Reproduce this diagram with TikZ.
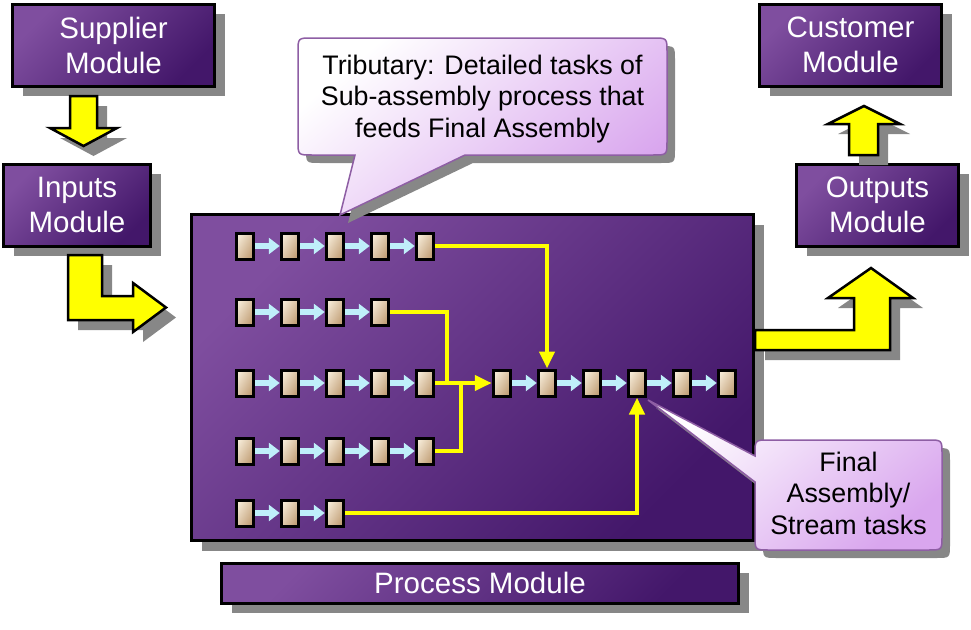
\documentclass[tikz,border=0pt]{standalone}
\usepackage{fontspec}
\setmainfont{Liberation Sans}
\usetikzlibrary{shadows,arrows.meta}
\definecolor{purL}{HTML}{7F4E9F}
\definecolor{purD}{HTML}{43176A}
\definecolor{tanL}{HTML}{F4E8D4}
\definecolor{tanD}{HTML}{C2A078}
\definecolor{blueA}{HTML}{BFEFFA}
\definecolor{ylw}{HTML}{FFFF00}
\definecolor{calD}{HTML}{D9A6EE}
\definecolor{calB}{HTML}{8E5EA4}
\begin{document}
\begin{tikzpicture}[x=1pt,y=-1pt,
  shad/.style={drop shadow={shadow xshift=10pt,shadow yshift=-10pt,fill=black!47,opacity=1}},
  module/.style={draw=black,line width=3pt,top color=purL,bottom color=purD,shading angle=45,
    text=white,font=\fontsize{29.5}{35}\selectfont,align=center,inner sep=0pt,shad},
  tb/.style={draw=black,line width=3pt,top color=tanL,bottom color=tanD,shading angle=60,
    minimum width=17.5pt,minimum height=26pt,inner sep=0pt},
  barr/.style={draw=blueA,line width=5.5pt,-{Triangle[width=16pt,length=11pt]}},
  yl/.style={draw=ylw,line width=4.5pt},
  yarr/.style={yl,-{Triangle[width=15pt,length=17pt]}},
  fat/.style={fill=ylw,draw=black,line width=2.5pt,line join=miter,shad},
  callout/.style={draw=calB,line width=1.5pt,top color=white,bottom color=calD,shading angle=40,
    drop shadow={shadow xshift=8pt,shadow yshift=-8pt,fill=black!47,opacity=1}},
  ctext/.style={font=\fontsize{26.8}{31.5}\selectfont,align=center,text=black,inner sep=0pt}]
\useasboundingbox (0,0) rectangle (971,629);

% modules
\node[module,minimum width=202pt,minimum height=82pt] (sup) at (113.5,45) {Supplier\\Module};
\node[module,minimum width=147pt,minimum height=82pt] (inp) at (77,205) {Inputs\\Module};
\node[module,minimum width=182pt,minimum height=82pt] (cus) at (850.5,45) {Customer\\Module};
\node[module,minimum width=162pt,minimum height=82pt] (out) at (877.5,205) {Outputs\\Module};
\node[module,minimum width=562pt,minimum height=326pt] (proc) at (472.5,377.5) {};
\node[module,minimum width=517pt,minimum height=40pt] (plabel) at (480,583) {Process Module};

% fat arrows
\path[fat] (70,96) -- (97,96) -- (97,128) -- (117,128) -- (83.5,146) -- (50,128) -- (70,128) -- cycle;
\path[fat] (68,255) -- (102,255) -- (102,296) -- (133,296) -- (133,283) -- (166,307.5) -- (133,332) -- (133,320) -- (68,320) -- cycle;
\path[fat] (755,330) -- (854,330) -- (854,298) -- (828,298) -- (871,268) -- (913,298) -- (890,298) -- (890,350) -- (755,350) -- cycle;
\path[fat] (849,155) -- (849,124) -- (828,124) -- (864,106) -- (900,124) -- (878,124) -- (878,155) -- cycle;

% task boxes
\foreach \i in {1,...,5} \node[tb] (r1b\i) at ({200+45*\i},246) {};
\foreach \i in {1,...,4} \node[tb] (r2b\i) at ({200+45*\i},312) {};
\foreach \i in {1,...,5} \node[tb] (r3b\i) at ({200+45*\i},383) {};
\foreach \i in {1,...,5} \node[tb] (r4b\i) at ({200+45*\i},451) {};
\foreach \i in {1,...,3} \node[tb] (r5b\i) at ({200+45*\i},513) {};
\foreach \i in {1,...,6} \node[tb] (f\i) at ({457+45*\i},383) {};

% blue arrows
\foreach \i/\j in {1/2,2/3,3/4,4/5} {
  \draw[barr] (r1b\i.east) -- (r1b\j.west);
  \draw[barr] (r3b\i.east) -- (r3b\j.west);
  \draw[barr] (r4b\i.east) -- (r4b\j.west);
}
\foreach \i/\j in {1/2,2/3,3/4} \draw[barr] (r2b\i.east) -- (r2b\j.west);
\foreach \i/\j in {1/2,2/3} \draw[barr] (r5b\i.east) -- (r5b\j.west);
\foreach \i/\j in {1/2,2/3,3/4,4/5,5/6} \draw[barr] (f\i.east) -- (f\j.west);

% yellow connectors
\coordinate (j2) at (447,383);
\coordinate (j4) at (461,383);
\draw[yarr] (r1b5.east) -| (f2.north);
\draw[yl] (r2b4.east) -| (j2);
\draw[yl] (r4b5.east) -| (j4);
\draw[yarr] (r3b5.east) -- (f1.west);
\draw[yarr] (r5b3.east) -| (f4.south);

% callouts
\path[callout] (312,38) -- (653,38) .. controls (667,38) .. (667,52) -- (667,141) .. controls (667,155) .. (653,155)
  -- (465,155) -- (340,215) -- (355,155) -- (312,155) .. controls (298,155) .. (298,141) -- (298,52) .. controls (298,38) .. (312,38) -- cycle;
\node[ctext] (c1) at (482.5,99) {Tributary: Detailed tasks of\\Sub-assembly process that\\feeds Final Assembly};

\path[callout] (769,440) -- (928,440) .. controls (942,440) .. (942,454) -- (942,536) .. controls (942,550) .. (928,550)
  -- (769,550) .. controls (755,550) .. (755,536) -- (755,482) -- (648,400) -- (755,456) -- (755,454) .. controls (755,440) .. (769,440) -- cycle;
\node[ctext] (c2) at (848.5,493) {Final\\Assembly/\\Stream tasks};
\end{tikzpicture}
\end{document}
